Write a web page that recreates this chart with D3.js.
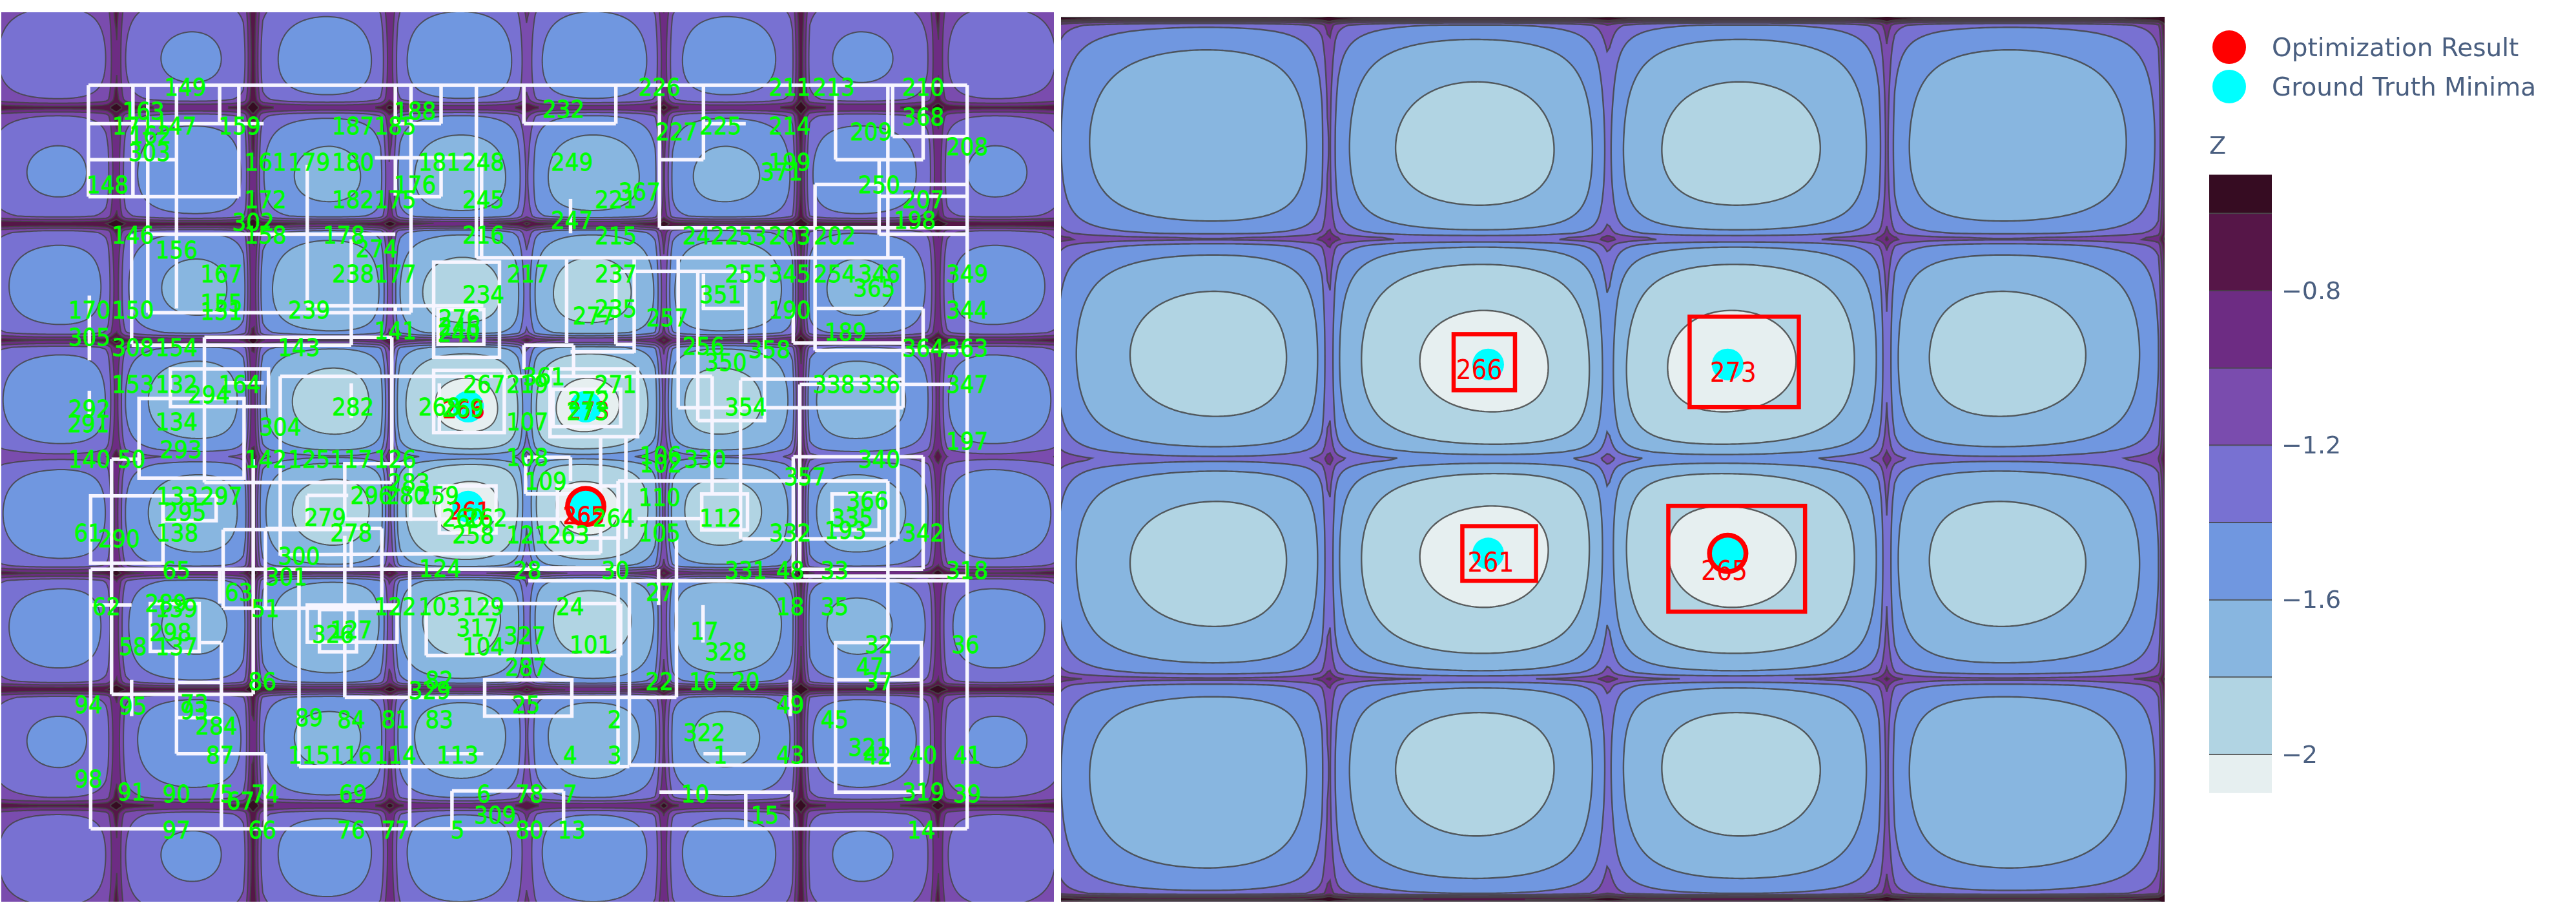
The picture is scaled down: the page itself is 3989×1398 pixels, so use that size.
<!DOCTYPE html>
<html><head><meta charset="utf-8">
<style>html,body{margin:0;padding:0;background:#fff}svg{display:block;filter:blur(0.6px)}</style>
<script src="https://cdn.jsdelivr.net/npm/d3@7"></script></head>
<body><svg id="c" width="3989" height="1398"></svg>
<script>
// ---- DATA (values read or estimated from the picture) ----
const contourLevels=[-0.6,-0.8,-1,-1.2,-1.4,-1.6,-1.8,-2];
const bandColors=["#360c22","#561648","#6d2c83","#7a4cae","#7871d2","#7097e0","#88b6e0","#b1d4e3","#e6eff0"];
const colorbarTicks=[-0.8,-1.2,-1.6,-2];
const colorbarRange=[-2.1,-0.5];
const depthRadius=[0,2,4,6,8,10,12,14,16,18];
const depthValue=[2.2,2.07,1.94,1.82,1.71,1.6,1.5,1.41,1.32,1.24];
// How far each crease rises (fraction of well depth), for crease k*pi, k from -4 upward.
const creaseLeftX=[.5,.56,.46,.57,.67,.57,.46,.56,.5];
const creaseLeftY=[.45,.52,.42,.5,.72,.5,.42,.52,.45];
const creaseRightX=[.4,.4,.4,.62,.7,.62,.4,.4,.4];
const creaseRightY=[.3,.3,.3,.62,.7,.62,.3,.3,.3];
const minimaX=[-1.349,1.349,-1.349,1.349];
const minimaY=[1.349,1.349,-1.349,-1.349];
const resultPoint=[1.349,-1.349];
const legendNames=["Optimization Result","Ground Truth Minima"];
const legendColors=["#ff0000","#00ffff"];
// Right panel boxes [x0,y0,x1,y1] and labels
const bestBoxes=[[-1.738,1.78,-1.047,.98],[.92,2.03,2.15,.74],[-1.64,-.96,-.81,-1.74],[.68,-.67,2.22,-2.18]];
const bestLabels=[[266,-1.45,1.27],[273,1.41,1.24],[261,-1.32,-1.47],[265,1.31,-1.59]];
// Left panel: visited points
const visitedA=[[149,-7.84,9.98],[163,-8.8,9.34],[171,-9.03,8.94],[147,-8.06,8.94],[162,-8.64,8.68],[303,-8.66,8.21],[159,-6.59,8.94],[187,-3.99,8.94],[185,-3.02,8.94],[188,-2.57,9.34],[161,-6,7.96],[179,-5,7.96],[180,-3.99,7.96],[181,-2.01,7.96],[248,-1,7.96],[148,-9.62,7.35],[176,-2.57,7.35],[172,-6,6.94],[182,-3.99,6.94],[175,-3.02,6.94],[245,-1,6.94],[302,-6.28,6.34],[146,-9.04,5.99],[158,-6,5.99],[178,-4.2,5.99],[216,-1,5.99],[156,-8.04,5.58],[274,-3.45,5.62],[167,-7.01,4.94],[238,-3.99,4.94],[177,-3.02,4.94],[217,.02,4.94],[234,-1,4.38],[170,-10.04,3.96],[150,-9.04,3.96],[155,-7.01,4.16],[151,-7.01,3.93],[239,-5,3.96],[276,-1.55,3.73],[246,-1.55,3.5],[240,-1.57,3.33],[141,-3.02,3.4],[305,-10.04,3.22],[308,-9.04,2.95],[154,-8.04,2.95],[143,-5.23,2.95],[153,-9.04,1.96],[132,-8.04,1.96],[164,-6.59,1.96],[294,-7.3,1.67],[282,-3.99,1.34],[292,-10.04,1.29],[291,-10.06,.89],[134,-8.04,.94],[304,-5.66,.81],[293,-7.94,.19],[267,-.98,1.95],[219,.01,1.95],[361,.39,2.16],[268,-2.01,1.34],[269,-1.47,1.31],[107,.01,.94],[271,2.03,1.95],[272,1.42,1.52],[273,1.39,1.22]];
const visitedB=[[226,3.04,9.98],[211,6.03,9.98],[213,7.04,9.98],[210,9.09,9.98],[232,.84,9.39],[368,9.09,9.18],[227,3.43,8.78],[225,4.44,8.94],[214,6.03,8.94],[209,7.89,8.78],[208,10.1,8.37],[249,1.03,7.96],[199,6.03,7.96],[371,5.84,7.7],[367,2.58,7.16],[221,2.04,6.95],[250,8.08,7.35],[207,9.09,6.95],[247,1.03,6.38],[198,8.9,6.38],[215,2.04,5.97],[242,4.05,5.97],[253,5.02,5.97],[203,6.03,5.97],[202,7.06,5.97],[237,2.04,4.94],[255,5.02,4.94],[345,6.03,4.94],[254,7.06,4.94],[346,8.08,4.94],[349,10.1,4.94],[365,7.97,4.55],[351,4.44,4.38],[235,2.04,3.99],[277,1.53,3.81],[257,3.22,3.75],[190,6.03,3.96],[344,10.1,3.96],[189,7.31,3.36],[256,4.05,2.99],[358,5.56,2.9],[364,9.09,2.93],[363,10.1,2.93],[350,4.56,2.54],[338,7.04,1.96],[336,8.08,1.96],[347,10.1,1.96],[354,5.02,1.34],[197,10.1,.42]];
const visitedC=[[140,-10.04,-.07],[50,-9.07,-.07],[142,-5.99,-.07],[125,-5,-.07],[117,-4.03,-.07],[126,-3.02,-.07],[133,-8.02,-1.06],[297,-7.01,-1.06],[295,-7.84,-1.5],[283,-2.71,-.7],[296,-3.57,-1.05],[280,-2.76,-1.05],[259,-2.04,-1.05],[279,-4.63,-1.63],[260,-1.47,-1.66],[262,-.93,-1.66],[258,-1.23,-2.11],[121,.01,-2.11],[263,.95,-2.11],[264,1.99,-1.66],[278,-4.03,-2.06],[138,-8.02,-2.06],[61,-10.07,-2.06],[290,-9.36,-2.22],[300,-5.23,-2.68],[65,-8.04,-3.07],[301,-5.52,-3.25],[124,-1.99,-3.02],[28,.01,-3.07],[30,2.03,-3.07],[27,3.05,-3.66],[63,-6.61,-3.66],[62,-9.65,-4.05],[289,-8.28,-3.95],[139,-8.04,-4.09],[51,-6,-4.09],[122,-3.02,-4.05],[103,-2.01,-4.05],[129,-1,-4.05],[317,-1.14,-4.63],[127,-4.03,-4.67],[326,-4.45,-4.8],[298,-8.18,-4.75],[58,-9.04,-5.12],[137,-8.04,-5.12],[104,-1,-5.12],[327,-.05,-4.83],[287,-.02,-5.68],[86,-6.07,-6.07],[82,-2.01,-6.03],[329,-2.23,-6.31],[94,-10.06,-6.7],[95,-9.04,-6.74],[73,-7.63,-6.66],[93,-7.63,-6.85],[89,-5,-7.05],[84,-4.03,-7.09],[81,-3.02,-7.09],[83,-2.01,-7.09],[284,-7.13,-7.28],[25,-.02,-6.7],[87,-7.04,-8.06],[115,-5,-8.06],[116,-4.03,-8.06],[114,-3.02,-8.06],[113,-1.59,-8.06],[98,-10.06,-8.7],[91,-9.07,-9.06],[90,-8.04,-9.11],[75,-7.04,-9.11],[67,-6.57,-9.29],[74,-6,-9.11],[69,-3.99,-9.11],[6,-.99,-9.11],[78,.06,-9.11],[309,-.73,-9.68],[5,-1.59,-10.09],[80,.06,-10.09],[97,-8.04,-10.09],[66,-6.07,-10.09],[76,-4.03,-10.09],[77,-3.02,-10.09]];
const visitedD=[[340,8.08,-.07],[330,4.09,-.07],[106,3.07,.03],[102,3.07,-.19],[108,.01,-.02],[109,.43,-.66],[357,6.38,-.54],[366,7.81,-1.19],[110,3.04,-1.09],[112,4.44,-1.66],[335,7.46,-1.66],[193,7.31,-1.98],[105,3.04,-2.06],[332,6.04,-2.06],[342,9.09,-2.06],[331,5.02,-3.07],[48,6.04,-3.07],[33,7.06,-3.07],[318,10.1,-3.07],[24,.99,-4.05],[18,6.04,-4.05],[35,7.06,-4.05],[17,4.07,-4.71],[32,8.07,-5.08],[36,10.06,-5.08],[101,1.46,-5.08],[328,4.56,-5.26],[47,7.87,-5.66],[37,8.07,-6.07],[22,3.04,-6.07],[16,4.04,-6.07],[20,5.02,-6.07],[2,2.01,-7.09],[49,6.04,-6.7],[45,7.06,-7.09],[322,4.07,-7.45],[321,7.85,-7.84],[42,8.04,-8.08],[43,6.04,-8.06],[40,9.09,-8.06],[41,10.1,-8.06],[4,.99,-8.06],[3,2.01,-8.06],[1,4.44,-8.06],[7,.99,-9.11],[10,3.86,-9.11],[319,9.09,-9.06],[39,10.1,-9.11],[15,5.46,-9.68],[13,1.03,-10.09],[14,9.05,-10.09]];
// Left panel: white search boxes [x0,y0,x1,y1], and box edges that show as single segments
const searchBoxes=[[-2.14,5.25,-.63,2.68],[-2.04,3.97,-.99,3.03],[-8.18,2.37,-5.93,1.35],[-8.9,1.57,-6.49,-.58],[-2.14,2.33,-.52,.65],[.53,2.37,2.54,.54],[.6,1.82,2.15,.81],[-4.18,-.19,-2.67,-1.69],[-10.01,-1.06,-8.35,-2.88],[-8.35,-1.06,-7.13,-1.73],[-8.64,-3.97,-7.52,-5.26],[-5.04,-4.01,-2.98,-5.01],[-4.76,-4.13,-3.91,-5.27],[-.97,-6.03,1.03,-7.01],[4.01,-1.01,5.06,-1.98],[7,-1.01,8.08,-1.98],[7.08,-5.02,9.05,-9.06],[-2.01,-.79,-.71,-2.06],[.7,-.79,2.1,-2.2]];
const searchEdges=[[-10.06,10.03,10.1,10.03],[-10.06,10.03,-10.06,7.02],[-9.04,10.03,-9.04,7.02],[-8.7,10.03,-8.7,3.89],[-8.04,10.03,-8.04,4],[-7.05,10.03,-7.05,8.99],[-6.61,10.03,-6.61,7.02],[-10.06,8.99,-6.04,8.99],[-10.04,8.02,-8.04,8.02],[-10.06,7.02,-6.61,7.02],[-3.02,10.03,-3.02,8.99],[-2.66,10.03,-2.66,3.89],[-1.97,10.03,-1.97,8.99],[-3.02,8.99,-1.97,8.99],[-3.49,8.07,-1,8.07],[-3.02,8.07,-3.02,7.05],[-1.97,8.07,-1.97,7.02],[-2.66,7.02,-1.97,7.02],[-1.16,10.03,-1.16,5.37],[-1.04,7.98,-1.04,5.41],[-1.16,5.37,8.63,5.37],[-8.7,6.01,-3.02,6.01],[-9.07,6.01,-9.07,3.03],[-5.04,7.88,-5.04,4.07],[-5.04,4.07,-1,4.07],[-8.7,3.89,-2.66,3.89],[-4.03,5.87,-4.03,3.01],[-9.07,3.01,-4.03,3.01],[-7.4,3.22,-7.4,-.7],[-7.4,3.22,-3.1,3.22],[-3.1,3.22,-3.1,-.7],[-3.02,4.07,-3.02,3.89],[-10.04,4.35,-10.04,2.6],[-10.04,1.78,-10.04,1.12],[-6.94,1.99,-6.04,1.99],[-5.66,2.17,4.25,2.17],[-5.66,2.17,-5.66,-2.68],[-4.03,1.98,-4.03,1.04],[-2.01,1.98,-2.01,.65],[-.07,3.01,1.07,3.01],[1.07,3.01,1.07,2.17],[-.07,3.01,-.07,2.37],[1.69,.54,1.69,-2.61],[2.27,.54,2.27,-2.22],[2.09,-.66,8.28,-.66],[2.09,-.66,2.09,-8.33],[-.07,10.03,-.07,8.99],[-.07,8.99,2.04,8.99],[2.04,10.03,2.04,8.99],[3.04,10.03,3.04,6.18],[4.05,10.03,4.05,8.02],[3.04,8.02,4.05,8.02],[4.05,8.99,5.02,8.99],[3.04,6.18,10.1,6.18],[7.08,10.03,7.08,8.02],[7.08,8.02,9.09,8.02],[8.28,10.03,8.28,5.37],[8.39,10.03,8.39,8.64],[8.39,8.64,10.1,8.64],[9.09,10.03,9.09,8.02],[10.1,10.03,10.1,-10.05],[6.61,7.35,10.1,7.35],[6.61,7.35,6.61,2.87],[8.08,7.03,10.1,7.03],[8.08,7.98,8.08,5.99],[8.08,6.01,10.1,6.01],[1,6.96,1,6.03],[.91,5.37,.91,3.07],[2.46,5.37,2.46,2.8],[1,2.83,2.46,2.83],[2.04,5,5.02,5],[2.04,5,2.04,3.03],[2.04,3.03,2.46,3.03],[3.47,5.37,3.47,1.32],[3.47,1.32,8.63,1.32],[8.63,5.37,8.63,1.32],[3.92,5,3.92,.97],[3.92,.97,5.49,.97],[5.02,5,5.02,3.07],[5.45,4.86,5.45,.97],[4.01,4,5.02,4],[4.05,4.94,4.05,4],[6.61,4,9.09,4],[9.09,4,9.09,2.87],[6.61,2.87,10.1,2.87],[6.11,3.96,6.11,3.07],[6.11,3.07,8.63,3.07],[4.25,2.17,4.25,-1],[4.9,2.06,4.9,-2.22],[4.9,2.09,8.63,2.09],[6.26,1.95,9.75,1.95],[6.26,1.95,6.26,-3.04],[8.51,1.95,8.51,-2.22],[-9.53,-.07,-9.53,-6.42],[-9.53,-.07,-8.9,-.07],[-9.53,-6.42,-6.28,-6.42],[-6.28,-.07,-6.28,-6.42],[-7.4,-.7,-3.1,-.7],[-4.18,-1.69,.9,-1.69],[2.54,-1.67,4.01,-1.67],[-6.97,-1.97,-4,-1.97],[-6,-1.94,-3.33,-1.94],[-6.97,-1.97,-6.97,-4.09],[-6,-1.97,-6,-4.09],[-6.97,-4.09,-2.98,-4.09],[-3.33,-1.94,-3.33,-4],[-5.04,-1.05,-5.04,-1.94],[-5.04,-1.05,-4.1,-1.05],[-5.66,-2.65,1.69,-2.6],[-10.01,-3.04,2.09,-3.04],[-5.23,-3.04,-5.23,-8.37],[-10.01,-3.04,-10.01,-10.05],[-10.01,-10.05,10.1,-10.05],[-2.69,-3.04,-2.69,-10.05],[-7.05,-3.04,-7.05,-3.97],[-4.03,-2.14,-4.03,-3],[-4.18,-2.14,-4.18,-6.5],[-4.18,-6.5,3.43,-6.5],[-7.01,-5.02,-7.01,-10.05],[-7.48,-5.02,-7.01,-5.02],[-8.04,-5.26,-8.04,-8.02],[-8.04,-8.02,-6,-8.02],[-6,-8.02,-6,-10.05],[-8.04,-6.1,-7.01,-6.1],[-8.04,-7.05,-7.01,-7.05],[-9.98,-4.01,-9.07,-4.01],[-9.07,-6.03,-9.07,-7.01],[-2.31,-4.09,-2.31,-5.37],[-2.31,-5.37,2.15,-5.37],[-1,-3.97,2.15,-3.97],[2.15,-3.97,2.15,-5.37],[-5.23,-8.37,2.35,-8.37],[2.35,-8.33,8.35,-8.33],[-1.86,-8.02,-1,-8.02],[-1.72,-9.03,.84,-9.03],[-1.72,-9.03,-1.72,-10.05],[.84,-9.03,.84,-10.05],[.03,-3,2.08,-3],[.03,-3.35,10.1,-3.35],[2.35,-3.35,2.35,-8.33],[6.11,0,9.09,0],[6.11,0,6.11,-3.15],[9.09,0,9.09,-3.04],[6.26,-3.04,9.09,-3.04],[6.34,-3.23,10.1,-3.23],[8.28,-.66,8.28,-8.33],[4.94,-2.22,8.51,-2.22],[3.43,-2.22,3.43,-6.5],[3.02,-3.04,3.02,-4.01],[4.04,-4.01,4.04,-5.02],[7.08,-6.03,9.05,-6.03],[3.04,-9.06,6.07,-9.06],[5.02,-9.06,5.02,-10.05],[6.07,-9.06,6.07,-10.05],[6.04,-6.03,6.04,-7.01],[4.05,-8.02,5.02,-8.02],[0,-.02,1,-.02],[-.03,-.02,-.03,-1.01],[-.03,-1.01,1.5,-1.01],[1,-.02,1,-.66]];
const visitedAll=[...visitedA,...visitedB,...visitedC,...visitedD];

// ---- SCALES ----
const xL=d3.scaleLinear([-12.06,12.09],[2,1632]), yL=d3.scaleLinear([-12.02,12],[1396,19]);
const xR=d3.scaleLinear([-6.16,6.27],[1643,3352]), yR=d3.scaleLinear([-6.32,6.31],[1396,26]);
const zBar=d3.scaleLinear([-2,-0.8],[1168,450]);
const depthAt=d3.scaleLinear(depthRadius,depthValue);
const svg=d3.select("#c");
const fontUI="'DejaVu Sans',sans-serif";

// Surface. NOT a cell-by-cell reading: the repeating well shape below is a formula, scaled by the tables
// (depth against radius, crease heights).
function rim(v,table,edgeStep){
  const k=Math.round(v/Math.PI), d=Math.abs(v-k*Math.PI);
  const c=table[Math.max(0,Math.min(table.length-1,k+4))];
  const e=Math.pow(Math.sin(edgeStep),.1);
  return d<edgeStep ? c+(e-c)*d/edgeStep : Math.pow(Math.sin(d),.1);
}
function panel(id,xS,yS,cx,cy,edgeStep,step,lineW){
  const [x0,x1]=xS.domain(), [y0,y1]=yS.domain();
  const xa=x0-3*step, yt=y1+3*step;
  const nx=Math.ceil((x1-x0)/step)+7, ny=Math.ceil((y1-y0)/step)+7;
  const vals=new Float64Array(nx*ny);
  for(let j=0;j<ny;j++){const y=yt-j*step, ry=rim(y,cy,edgeStep);
    for(let i=0;i<nx;i++){const x=xa+i*step;
      vals[j*nx+i]=depthAt(Math.hypot(x,y))*rim(x,cx,edgeStep)*ry;}}
  const th=contourLevels.map(d=>-d);
  const polys=d3.contours().size([nx,ny]).smooth(true).thresholds(th)(vals);
  const path=d3.geoPath(d3.geoTransform({point(a,b){this.stream.point(xS(xa+(a-.5)*step),yS(yt-(b-.5)*step));}}));
  svg.append("clipPath").attr("id",id).append("rect").attr("x",xS(x0)).attr("y",yS(y1)).attr("width",xS(x1)-xS(x0)).attr("height",yS(y0)-yS(y1));
  const g=svg.append("g").attr("clip-path",`url(#${id})`);
  g.append("rect").attr("x",xS(x0)).attr("y",yS(y1)).attr("width",xS(x1)-xS(x0)).attr("height",yS(y0)-yS(y1)).attr("fill",bandColors[0]);
  g.selectAll("path").data(polys).join("path").attr("d",path).attr("fill",(d,i)=>bandColors[i+1])
    .attr("fill-rule","evenodd").attr("stroke","#444").attr("stroke-opacity",.85).attr("stroke-width",lineW);
  return g;
}
const gL=panel("cl",xL,yL,creaseLeftX,creaseLeftY,.2,.05,2);
const gR=panel("cr",xR,yR,creaseRightX,creaseRightY,.08,.03,2.4);

// Labels are condensed horizontally in the reference
function labels(g,cls,data,xS,yS,size,color,weight){
  g.selectAll("text."+cls).data(data).join("text").attr("class",cls)
    .attr("transform",d=>`translate(${xS(d[1])},${yS(d[2])}) scale(.9,1)`).text(d=>d[0])
    .attr("text-anchor","middle").attr("dominant-baseline","central")
    .attr("font-family",fontUI).attr("font-size",size).attr("fill",color)
    .attr("stroke",color).attr("stroke-width",weight);
}
// Left overlay
gL.selectAll("rect.box").data(searchBoxes).join("rect").attr("class","box")
  .attr("x",d=>xL(d[0])).attr("y",d=>yL(d[1])).attr("width",d=>xL(d[2])-xL(d[0])).attr("height",d=>yL(d[3])-yL(d[1]))
  .attr("fill","none").attr("stroke","#f7f5ff").attr("stroke-width",5.5);
gL.selectAll("line").data(searchEdges).join("line")
  .attr("x1",d=>xL(d[0])).attr("y1",d=>yL(d[1])).attr("x2",d=>xL(d[2])).attr("y2",d=>yL(d[3]))
  .attr("stroke","#f7f5ff").attr("stroke-width",5.5);
function markers(g,xS,yS){
  g.append("circle").attr("cx",xS(resultPoint[0])).attr("cy",yS(resultPoint[1])).attr("r",32).attr("fill","#ff0000");
  g.selectAll("circle.m").data(minimaX).join("circle").attr("class","m").attr("cx",d=>xS(d)).attr("cy",(d,i)=>yS(minimaY[i])).attr("r",24.5).attr("fill","#00ffff");
}
markers(gL,xL,yL);
labels(gL,"r",bestLabels,xL,yL,38,"#ff0000",.8);
labels(gL,"g",visitedAll,xL,yL,38,"#00ff00",.8);

// Right overlay
markers(gR,xR,yR);
gR.selectAll("rect.box").data(bestBoxes).join("rect").attr("class","box")
  .attr("x",d=>xR(d[0])).attr("y",d=>yR(d[1])).attr("width",d=>xR(d[2])-xR(d[0])).attr("height",d=>yR(d[3])-yR(d[1]))
  .attr("fill","none").attr("stroke","#ff0000").attr("stroke-width",6.5);
labels(gR,"r",bestLabels,xR,yR,42,"#ff0000",0);

// Legend
const lg=svg.append("g");
lg.selectAll("circle").data(legendNames).join("circle").attr("cx",3452).attr("cy",(d,i)=>[73,134][i]).attr("r",26).attr("fill",(d,i)=>legendColors[i]);
lg.selectAll("text").data(legendNames).join("text").attr("x",3518).attr("y",(d,i)=>[73,134][i]).attr("dominant-baseline","central")
  .attr("font-family",fontUI).attr("font-size",39).attr("fill","#4a5f80").text(d=>d);

// Colorbar
const edges=[colorbarRange[1],...contourLevels,colorbarRange[0]];
const cb=svg.append("g");
cb.selectAll("rect").data(bandColors).join("rect").attr("x",3421).attr("width",97)
  .attr("y",(d,i)=>zBar(edges[i])).attr("height",(d,i)=>zBar(edges[i+1])-zBar(edges[i])).attr("fill",d=>d);
cb.selectAll("line").data(contourLevels).join("line").attr("x1",3421).attr("x2",3518).attr("y1",d=>zBar(d)).attr("y2",d=>zBar(d)).attr("stroke","#444").attr("stroke-width",2).attr("stroke-opacity",.8);
const ax=svg.append("g").attr("transform","translate(3533,0)")
  .call(d3.axisRight(zBar).tickValues(colorbarTicks).tickSize(0).tickPadding(0).tickFormat(d=>String(d).replace("-","\u2212")));
ax.select(".domain").remove();
ax.selectAll("text").attr("font-family",fontUI).attr("font-size",38).attr("fill","#4a5f80");
svg.append("text").attr("x",3421).attr("y",238).text("Z").attr("font-family",fontUI).attr("font-size",38).attr("fill","#4a5f80");
</script></body></html>
